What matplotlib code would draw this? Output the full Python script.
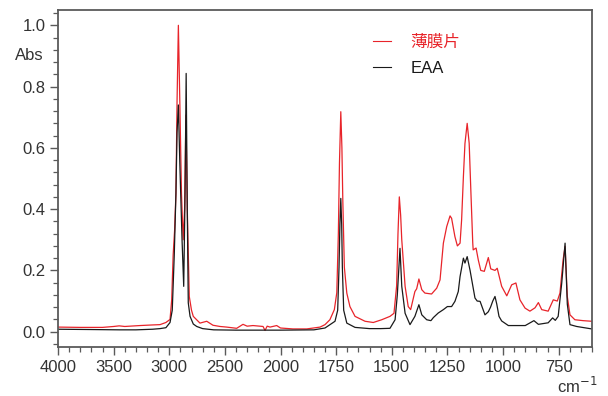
import numpy as np
import matplotlib
matplotlib.use("Agg")
import matplotlib.pyplot as plt
from matplotlib.ticker import FixedLocator, MultipleLocator

plt.rcParams['font.family'] = ['Liberation Sans', 'Noto Sans CJK SC', 'DejaVu Sans']

# ---- data ----
film_wn = [4000, 3800, 3600, 3500, 3450, 3400, 3263, 3150, 3083, 3030, 2993, 2978, 2965,
           2952, 2940, 2930, 2918, 2905, 2890, 2875, 2862, 2850, 2838, 2820, 2800, 2784,
           2724, 2663, 2607, 2544, 2484, 2394, 2337, 2300, 2247, 2157, 2139, 2120, 2094,
           2034, 2000, 1944, 1882, 1822, 1800, 1778, 1758, 1747, 1740, 1735, 1729, 1724,
           1720, 1713, 1702, 1688, 1665, 1620, 1583, 1545, 1508, 1490, 1478, 1472, 1466,
           1460, 1455, 1440, 1426, 1415, 1396, 1388, 1378, 1365, 1351, 1321, 1298, 1283,
           1268, 1253, 1238, 1231, 1216, 1205, 1193, 1186, 1178, 1171, 1161, 1152, 1144,
           1136, 1134, 1121, 1111, 1100, 1084, 1066, 1055, 1036, 1026, 1006, 983, 961, 942,
           924, 901, 879, 856, 841, 826, 797, 774, 756, 744, 730, 721, 711, 699, 677, 640, 601]
film_abs = [0.015, 0.014, 0.014, 0.017, 0.019, 0.017, 0.020, 0.022, 0.023, 0.030, 0.040, 0.104, 0.25,
            0.33, 0.45, 0.75, 1.00, 0.75, 0.45, 0.30, 0.40, 0.707, 0.40, 0.115, 0.07, 0.050,
            0.028, 0.034, 0.021, 0.017, 0.015, 0.011, 0.024, 0.018, 0.020, 0.017, 0.004, 0.018, 0.015,
            0.020, 0.012, 0.009, 0.009, 0.015, 0.023, 0.039, 0.072, 0.127, 0.32, 0.55, 0.718, 0.60,
            0.43, 0.21, 0.126, 0.082, 0.05, 0.034, 0.03, 0.039, 0.05, 0.06, 0.15, 0.32, 0.44,
            0.38, 0.30, 0.148, 0.082, 0.072, 0.131, 0.14, 0.172, 0.137, 0.126, 0.123, 0.142, 0.169,
            0.289, 0.343, 0.378, 0.37, 0.31, 0.28, 0.289, 0.365, 0.506, 0.614, 0.68, 0.615, 0.45,
            0.29, 0.267, 0.273, 0.234, 0.20, 0.197, 0.242, 0.205, 0.20, 0.207, 0.148, 0.117, 0.153, 0.159,
            0.104, 0.077, 0.067, 0.078, 0.095, 0.072, 0.067, 0.104, 0.10, 0.126, 0.234, 0.278, 0.115, 0.055,
            0.039, 0.036, 0.034]

eaa_wn = [4000, 3700, 3443, 3300, 3150, 3083, 3030, 2993, 2973, 2955, 2940, 2930, 2918, 2905,
          2885, 2870, 2858, 2848, 2838, 2829, 2813, 2784, 2753, 2700, 2600, 2400, 2200, 2000,
          1850, 1800, 1755, 1743, 1737, 1733, 1729, 1725, 1722, 1716, 1702, 1665, 1600, 1550,
          1508, 1485, 1475, 1463, 1455, 1440, 1418, 1396, 1378, 1365, 1343, 1324, 1313, 1291,
          1268, 1250, 1231, 1216, 1201, 1193, 1178, 1171, 1161, 1148, 1138, 1126, 1116, 1103,
          1081, 1066, 1056, 1046, 1036, 1028, 1018, 1006, 976, 900, 861, 841, 797, 777, 765,
          752, 736, 721, 711, 699, 669, 601]
eaa_abs = [0.008, 0.007, 0.006, 0.006, 0.008, 0.010, 0.013, 0.030, 0.07, 0.25, 0.45, 0.65, 0.74, 0.55,
           0.30, 0.148, 0.45, 0.843, 0.40, 0.094, 0.05, 0.025, 0.017, 0.010, 0.006, 0.005, 0.005, 0.005,
           0.006, 0.012, 0.034, 0.07, 0.21, 0.35, 0.435, 0.35, 0.21, 0.07, 0.028, 0.014, 0.010, 0.010,
           0.011, 0.039, 0.12, 0.272, 0.148, 0.06, 0.023, 0.05, 0.088, 0.055, 0.039, 0.036, 0.046, 0.061,
           0.072, 0.082, 0.082, 0.099, 0.131, 0.18, 0.24, 0.224, 0.245, 0.20, 0.159, 0.11, 0.10, 0.099,
           0.055, 0.065, 0.08, 0.10, 0.115, 0.09, 0.05, 0.035, 0.02, 0.02, 0.036, 0.024, 0.029, 0.045, 0.037,
           0.05, 0.159, 0.289, 0.09, 0.023, 0.017, 0.009]

series_labels = ["薄膜片", "EAA"]
series_colors = ["#e8242a", "#1a1a1a"]
major_ticks = [4000, 3500, 3000, 2500, 2000, 1750, 1500, 1250, 1000, 750]
y_ticks = [0.0, 0.2, 0.4, 0.6, 0.8, 1.0]


# ---- axis with scale change at 2000 cm-1 (compressed 2x above) ----
def fwd(x):
    x = np.asarray(x, dtype=float)
    return np.where(x > 2000, 2000 + (x - 2000) / 2.0, x)


def inv(u):
    u = np.asarray(u, dtype=float)
    return np.where(u > 2000, 2000 + (u - 2000) * 2.0, u)


fig = plt.figure(figsize=(6.08, 3.96), dpi=100)
ax = fig.add_axes([58 / 608, 1 - 347 / 396, 534 / 608, 337 / 396])
ax.set_xscale('function', functions=(fwd, inv))

ax.plot(film_wn, film_abs, color=series_colors[0], lw=0.9, label=series_labels[0])
ax.plot(eaa_wn, eaa_abs, color=series_colors[1], lw=0.9, label=series_labels[1])

ax.set_xlim(4000, 600)
ax.set_ylim(-0.05, 1.05)

minor_x = list(range(4000, 2000, -100)) + list(range(2000, 599, -50))
ax.xaxis.set_major_locator(FixedLocator(major_ticks))
ax.xaxis.set_minor_locator(FixedLocator(minor_x))
ax.set_xticklabels([str(t) for t in major_ticks])
ax.yaxis.set_major_locator(FixedLocator(y_ticks))
ax.yaxis.set_minor_locator(MultipleLocator(0.04))
ax.set_yticklabels([f"{t:.1f}" for t in y_ticks])

spine_c = "#5a5a5a"
for s in ax.spines.values():
    s.set_color(spine_c)
    s.set_linewidth(1.3)
ax.tick_params(axis='both', which='major', direction='out', length=6, width=1.0,
               color=spine_c, labelsize=12, labelcolor="#333333", pad=3)
ax.tick_params(axis='both', which='minor', direction='out', length=3.5, width=0.9, color=spine_c)

ax.text(-0.027, 0.9, "Abs", transform=ax.get_yaxis_transform(), ha='right', va='center',
        fontsize=12, color="#333333")
fig.text(597 / 608, 10 / 396, "cm$^{-1}$", ha='right', va='center', fontsize=12, color="#333333")

leg = ax.legend(loc='upper left', bbox_to_anchor=(315 / 534, (347 - 35) / 337), borderaxespad=0,
                borderpad=0, frameon=False, handlelength=1.05, handletextpad=1.2, labelspacing=0.65,
                fontsize=12, labelcolor=series_colors)
for h in leg.get_lines():
    h.set_linewidth(0.8)

fig.savefig("out.png", dpi=100)
